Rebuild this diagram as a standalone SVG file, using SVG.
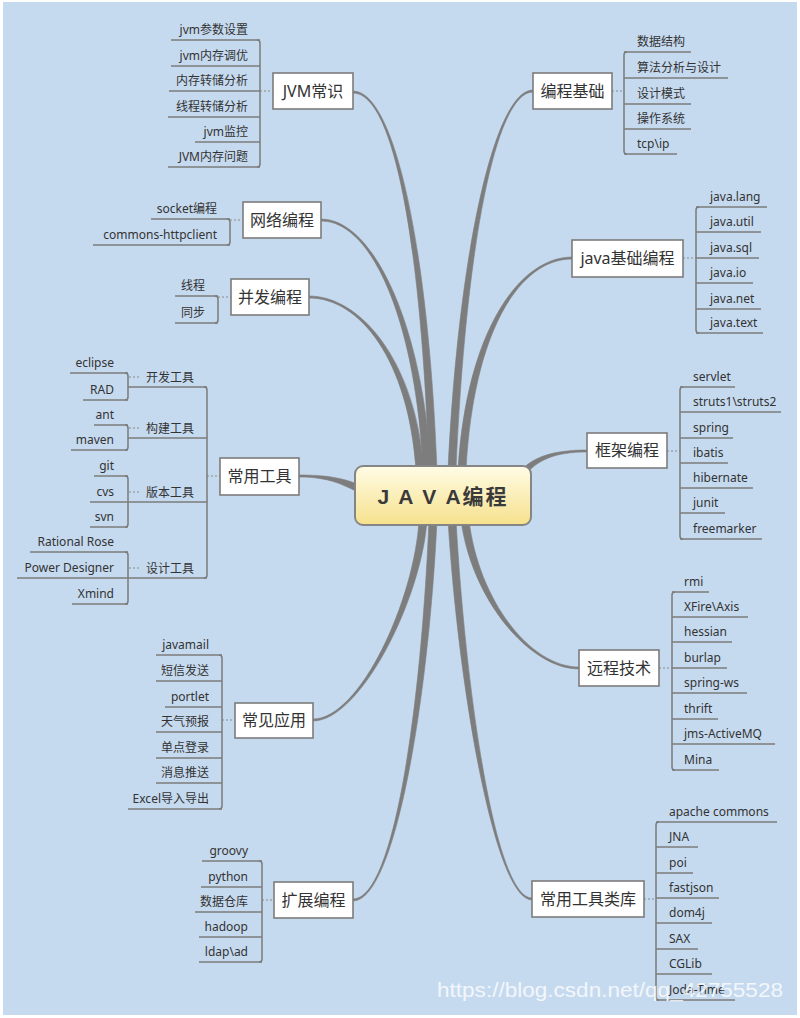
<svg xmlns="http://www.w3.org/2000/svg" width="800" height="1018" viewBox="0 0 800 1018">
<defs>
<linearGradient id="cg" x1="0" y1="0" x2="0" y2="1">
<stop offset="0" stop-color="#fffce6"/>
<stop offset="1" stop-color="#f6e18c"/>
</linearGradient>
<style>
.bg{fill:#c6daef}
.box{fill:#fff;stroke:#7c7c7c;stroke-width:1.6}
.bt{font-family:"Noto Sans","Noto Sans CJK SC",sans-serif;font-size:16px;fill:#333;text-anchor:middle}
.ct{font-family:"Noto Sans","Noto Sans CJK SC",sans-serif;font-size:12px;fill:#333}
.l{text-anchor:end}
.ul{fill:none;stroke:#7b7b7b;stroke-width:1.5}
.br{fill:none;stroke:#7b7b7b;stroke-width:1.5}
.dash{fill:none;stroke:#8a8a8a;stroke-width:1;stroke-dasharray:2 2}
.main{fill:#7d7d7d;stroke:#7d7d7d;stroke-width:0.6}
</style>
</defs>
<rect x="0" y="0" width="800" height="1018" fill="#fff"/>
<rect class="bg" x="3" y="2" width="794" height="1013"/>

<g id="connectors">
<path class="main" d="M353,91 C395,91 428.5,250 437,470 L429,470 C421.5,250 395,93 353,93 Z"/>
<path class="main" d="M321,219 C375,219 423.5,330 431,470 L423,470 C416.5,330 375,221 321,221 Z"/>
<path class="main" d="M309,296 C360,296 415.5,360 424,470 L416,470 C408.5,360 360,298 309,298 Z"/>
<path class="main" d="M533,90 C495,90 458.5,250 448,470 L456,470 C465.5,250 495,92 533,92 Z"/>
<path class="main" d="M572,257 C520,257 466.5,330 458,470 L466,470 C473.5,330 520,259 572,259 Z"/>
<path class="main" d="M587,450 C555,450 532.6,456.2 519.6,472.2 L524.4,475.8 C537.4,459.8 555,452 587,452 Z"/>
<path class="main" d="M299,477 C330,477 343.5,485.2 360.5,493.2 L363.5,486.8 C346.5,478.8 330,475 299,475 Z"/>
<path class="main" d="M313,721 C360,721 421.5,600 427,520 L419,520 C414.5,600 360,719 313,719 Z"/>
<path class="main" d="M353,901 C395,901 428.5,700 437,520 L429,520 C421.5,700 395,899 353,899 Z"/>
<path class="main" d="M532,900 C495,900 458.5,690 448,520 L456,520 C465.5,690 495,898 532,898 Z"/>
<path class="main" d="M579,669 C530,669 471.5,600 461,520 L469,520 C478.5,600 530,667 579,667 Z"/>

<path class="dash" d="M260,91 H273 M230,220 H243 M218,297 H231 M207,476 H220 M222,720 H235 M262,900 H274 M612,91 H624 M683,258 H696 M667,451 H680 M659,668 H672 M644,899 H656 M129,377 H141 M129,428 H141 M129,492 H141 M129,568 H141"/>

<path class="br" d="M257,40 Q260,40 260,43 V164 Q260,167 257,167"/>
<path class="br" d="M227,219 Q230,219 230,222 V242 Q230,245 227,245"/>
<path class="br" d="M215,296 Q218,296 218,299 V320 Q218,323 215,323"/>
<path class="br" d="M204,387 Q207,387 207,390 V575 Q207,578 204,578"/>
<path class="br" d="M125,373 Q128,373 128,376 V397 Q128,400 125,400"/>
<path class="br" d="M125,425 Q128,425 128,428 V447 Q128,450 125,450"/>
<path class="br" d="M125,476 Q128,476 128,479 V524 Q128,527 125,527"/>
<path class="br" d="M125,552 Q128,552 128,555 V601 Q128,604 125,604"/>
<path class="br" d="M219,655 Q222,655 222,658 V806 Q222,809 219,809"/>
<path class="br" d="M259,861 Q262,861 262,864 V959 Q262,962 259,962"/>
<path class="br" d="M627,52 Q624,52 624,55 V151 Q624,154 627,154"/>
<path class="br" d="M699,207 Q696,207 696,210 V330 Q696,333 699,333"/>
<path class="br" d="M683,387 Q680,387 680,390 V536 Q680,539 683,539"/>
<path class="br" d="M675,592 Q672,592 672,595 V767 Q672,770 675,770"/>
<path class="br" d="M659,822 Q656,822 656,825 V997 Q656,1000 659,1000"/>
</g>

<g id="center">
<rect x="355" y="466" width="176" height="59" rx="8" fill="url(#cg)" stroke="#858585" stroke-width="2"/>
<text x="443" y="504" font-family="'Liberation Sans','Noto Sans CJK SC',sans-serif" font-size="21" font-weight="bold" fill="#3a3a3a" text-anchor="middle" letter-spacing="2">J A V A编程</text>
</g>

<!-- JVM常识 -->
<g id="jvm"><rect class="box" x="273" y="73" width="80" height="36"/><text class="bt" x="313" y="97">JVM常识</text></g>
<g id="jvm-1"><path class="ul" d="M171,40 H260"/><text class="ct l" x="248" y="34">jvm参数设置</text></g>
<g id="jvm-2"><path class="ul" d="M171,66 H260"/><text class="ct l" x="248" y="60">jvm内存调优</text></g>
<g id="jvm-3"><path class="ul" d="M169,91 H260"/><text class="ct l" x="248" y="85">内存转储分析</text></g>
<g id="jvm-4"><path class="ul" d="M168,117 H260"/><text class="ct l" x="248" y="111">线程转储分析</text></g>
<g id="jvm-5"><path class="ul" d="M195,142 H260"/><text class="ct l" x="248" y="136">jvm监控</text></g>
<g id="jvm-6"><path class="ul" d="M168,167 H260"/><text class="ct l" x="248" y="161">JVM内存问题</text></g>

<!-- 网络编程 -->
<g id="net"><rect class="box" x="243" y="202" width="78" height="36"/><text class="bt" x="282" y="226">网络编程</text></g>
<g id="net-1"><path class="ul" d="M151,219 H230"/><text class="ct l" x="217" y="213">socket编程</text></g>
<g id="net-2"><path class="ul" d="M93,245 H230"/><text class="ct l" x="217" y="239">commons-httpclient</text></g>

<!-- 并发编程 -->
<g id="conc"><rect class="box" x="231" y="279" width="78" height="36"/><text class="bt" x="270" y="303">并发编程</text></g>
<g id="conc-1"><path class="ul" d="M175,296 H218"/><text class="ct l" x="205" y="290">线程</text></g>
<g id="conc-2"><path class="ul" d="M175,323 H218"/><text class="ct l" x="205" y="317">同步</text></g>

<!-- 常用工具 -->
<g id="tools"><rect class="box" x="220" y="458" width="79" height="37"/><text class="bt" x="259.5" y="482">常用工具</text></g>
<g id="tools-dev"><path class="ul" d="M128,387 H207"/><text class="ct l" x="194" y="382">开发工具</text></g>
<g id="tools-dev-1"><path class="ul" d="M70,373 H128"/><text class="ct l" x="114" y="367">eclipse</text></g>
<g id="tools-dev-2"><path class="ul" d="M83,400 H128"/><text class="ct l" x="114" y="394">RAD</text></g>
<g id="tools-build"><path class="ul" d="M128,438 H207"/><text class="ct l" x="194" y="433">构建工具</text></g>
<g id="tools-build-1"><path class="ul" d="M94,425 H128"/><text class="ct l" x="114" y="419">ant</text></g>
<g id="tools-build-2"><path class="ul" d="M71,450 H128"/><text class="ct l" x="114" y="444">maven</text></g>
<g id="tools-ver"><path class="ul" d="M128,502 H207"/><text class="ct l" x="194" y="497">版本工具</text></g>
<g id="tools-ver-1"><path class="ul" d="M94,476 H128"/><text class="ct l" x="114" y="470">git</text></g>
<g id="tools-ver-2"><path class="ul" d="M90,502 H128"/><text class="ct l" x="114" y="496">cvs</text></g>
<g id="tools-ver-3"><path class="ul" d="M90,527 H128"/><text class="ct l" x="114" y="521">svn</text></g>
<g id="tools-des"><path class="ul" d="M128,578 H207"/><text class="ct l" x="194" y="573">设计工具</text></g>
<g id="tools-des-1"><path class="ul" d="M30,552 H128"/><text class="ct l" x="114" y="546">Rational Rose</text></g>
<g id="tools-des-2"><path class="ul" d="M17,578 H128"/><text class="ct l" x="114" y="572">Power Designer</text></g>
<g id="tools-des-3"><path class="ul" d="M72,604 H128"/><text class="ct l" x="114" y="598">Xmind</text></g>

<!-- 常见应用 -->
<g id="apps"><rect class="box" x="235" y="703" width="78" height="35"/><text class="bt" x="274" y="726">常见应用</text></g>
<g id="apps-1"><path class="ul" d="M156,655 H222"/><text class="ct l" x="209" y="649">javamail</text></g>
<g id="apps-2"><path class="ul" d="M156,681 H222"/><text class="ct l" x="209" y="675">短信发送</text></g>
<g id="apps-3"><path class="ul" d="M165,707 H222"/><text class="ct l" x="209" y="701">portlet</text></g>
<g id="apps-4"><path class="ul" d="M156,732 H222"/><text class="ct l" x="209" y="726">天气预报</text></g>
<g id="apps-5"><path class="ul" d="M156,758 H222"/><text class="ct l" x="209" y="752">单点登录</text></g>
<g id="apps-6"><path class="ul" d="M156,783 H222"/><text class="ct l" x="209" y="777">消息推送</text></g>
<g id="apps-7"><path class="ul" d="M128,809 H222"/><text class="ct l" x="209" y="803">Excel导入导出</text></g>

<!-- 扩展编程 -->
<g id="ext"><rect class="box" x="274" y="882" width="79" height="36"/><text class="bt" x="313.5" y="906">扩展编程</text></g>
<g id="ext-1"><path class="ul" d="M202,861 H262"/><text class="ct l" x="248" y="855">groovy</text></g>
<g id="ext-2"><path class="ul" d="M201,887 H262"/><text class="ct l" x="248" y="881">python</text></g>
<g id="ext-3"><path class="ul" d="M195,912 H262"/><text class="ct l" x="248" y="906">数据仓库</text></g>
<g id="ext-4"><path class="ul" d="M199,937 H262"/><text class="ct l" x="248" y="931">hadoop</text></g>
<g id="ext-5"><path class="ul" d="M199,962 H262"/><text class="ct l" x="248" y="956">ldap\ad</text></g>

<!-- 编程基础 -->
<g id="basic"><rect class="box" x="533" y="73" width="79" height="36"/><text class="bt" x="572.5" y="97">编程基础</text></g>
<g id="basic-1"><path class="ul" d="M624,52 H691"/><text class="ct" x="637" y="46">数据结构</text></g>
<g id="basic-2"><path class="ul" d="M624,78 H728"/><text class="ct" x="637" y="72">算法分析与设计</text></g>
<g id="basic-3"><path class="ul" d="M624,104 H691"/><text class="ct" x="637" y="98">设计模式</text></g>
<g id="basic-4"><path class="ul" d="M624,129 H691"/><text class="ct" x="637" y="123">操作系统</text></g>
<g id="basic-5"><path class="ul" d="M624,154 H677"/><text class="ct" x="637" y="148">tcp\ip</text></g>

<!-- java基础编程 -->
<g id="jbase"><rect class="box" x="572" y="240" width="111" height="37"/><text class="bt" x="627.5" y="264">java基础编程</text></g>
<g id="jbase-1"><path class="ul" d="M696,207 H767"/><text class="ct" x="710" y="201">java.lang</text></g>
<g id="jbase-2"><path class="ul" d="M696,232 H761"/><text class="ct" x="710" y="226">java.util</text></g>
<g id="jbase-3"><path class="ul" d="M696,258 H759"/><text class="ct" x="710" y="252">java.sql</text></g>
<g id="jbase-4"><path class="ul" d="M696,283 H753"/><text class="ct" x="710" y="277">java.io</text></g>
<g id="jbase-5"><path class="ul" d="M696,309 H761"/><text class="ct" x="710" y="303">java.net</text></g>
<g id="jbase-6"><path class="ul" d="M696,333 H763"/><text class="ct" x="710" y="327">java.text</text></g>

<!-- 框架编程 -->
<g id="frame"><rect class="box" x="587" y="433" width="80" height="35"/><text class="bt" x="627" y="456">框架编程</text></g>
<g id="frame-1"><path class="ul" d="M680,387 H735"/><text class="ct" x="693" y="381">servlet</text></g>
<g id="frame-2"><path class="ul" d="M680,412 H781"/><text class="ct" x="693" y="406">struts1\struts2</text></g>
<g id="frame-3"><path class="ul" d="M680,438 H733"/><text class="ct" x="693" y="432">spring</text></g>
<g id="frame-4"><path class="ul" d="M680,463 H728"/><text class="ct" x="693" y="457">ibatis</text></g>
<g id="frame-5"><path class="ul" d="M680,488 H753"/><text class="ct" x="693" y="482">hibernate</text></g>
<g id="frame-6"><path class="ul" d="M680,513 H725"/><text class="ct" x="693" y="507">junit</text></g>
<g id="frame-7"><path class="ul" d="M680,539 H762"/><text class="ct" x="693" y="533">freemarker</text></g>

<!-- 远程技术 -->
<g id="remote"><rect class="box" x="579" y="650" width="80" height="36"/><text class="bt" x="619" y="674">远程技术</text></g>
<g id="remote-1"><path class="ul" d="M672,592 H709"/><text class="ct" x="684" y="586">rmi</text></g>
<g id="remote-2"><path class="ul" d="M672,617 H748"/><text class="ct" x="684" y="611">XFire\Axis</text></g>
<g id="remote-3"><path class="ul" d="M672,642 H732"/><text class="ct" x="684" y="636">hessian</text></g>
<g id="remote-4"><path class="ul" d="M672,668 H727"/><text class="ct" x="684" y="662">burlap</text></g>
<g id="remote-5"><path class="ul" d="M672,693 H747"/><text class="ct" x="684" y="687">spring-ws</text></g>
<g id="remote-6"><path class="ul" d="M672,719 H718"/><text class="ct" x="684" y="713">thrift</text></g>
<g id="remote-7"><path class="ul" d="M672,744 H775"/><text class="ct" x="684" y="738">jms-ActiveMQ</text></g>
<g id="remote-8"><path class="ul" d="M672,770 H719"/><text class="ct" x="684" y="764">Mina</text></g>

<!-- 常用工具类库 -->
<g id="libs"><rect class="box" x="532" y="881" width="112" height="36"/><text class="bt" x="588" y="905">常用工具类库</text></g>
<g id="libs-1"><path class="ul" d="M656,822 H777"/><text class="ct" x="669" y="816">apache commons</text></g>
<g id="libs-2"><path class="ul" d="M656,847 H698"/><text class="ct" x="669" y="841">JNA</text></g>
<g id="libs-3"><path class="ul" d="M656,873 H693"/><text class="ct" x="669" y="867">poi</text></g>
<g id="libs-4"><path class="ul" d="M656,898 H719"/><text class="ct" x="669" y="892">fastjson</text></g>
<g id="libs-5"><path class="ul" d="M656,923 H712"/><text class="ct" x="669" y="917">dom4j</text></g>
<g id="libs-6"><path class="ul" d="M656,949 H698"/><text class="ct" x="669" y="943">SAX</text></g>
<g id="libs-7"><path class="ul" d="M656,974 H712"/><text class="ct" x="669" y="968">CGLib</text></g>
<g id="libs-8"><path class="ul" d="M656,1000 H735"/><text class="ct" x="669" y="994">Joda-Time</text></g>

<text x="437" y="997" font-family="'Liberation Sans',sans-serif" font-size="19.5" fill="#ffffff" fill-opacity="0.8" textLength="346" lengthAdjust="spacingAndGlyphs">https://blog.csdn.net/qq_42755528</text>
</svg>
